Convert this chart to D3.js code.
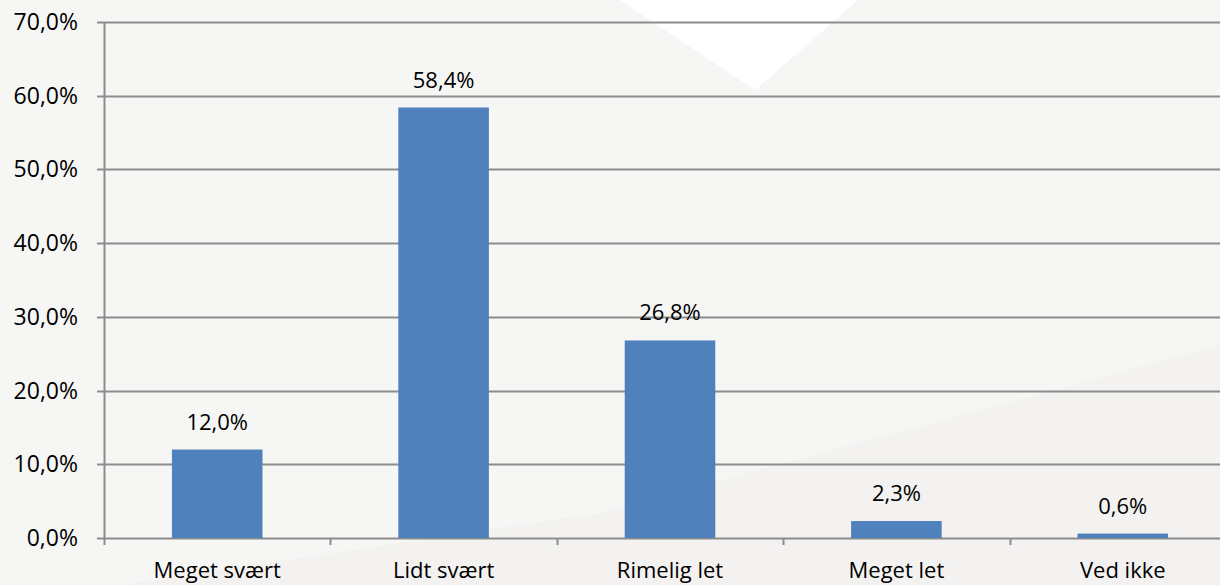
<!DOCTYPE html>
<html>
<head>
<meta charset="utf-8">
<script src="https://cdn.jsdelivr.net/npm/d3@7"></script>
<style>
body { margin: 0; background: #f6f6f5; }
svg { display: block; }
text { font-family: "Open Sans", sans-serif; fill: #000; }
</style>
</head>
<body>
<div id="chart"></div>
<script>
// data
const categories = ["Meget svært", "Lidt svært", "Rimelig let", "Meget let", "Ved ikke"]
const values = [12.0, 58.4, 26.8, 2.3, 0.6]
const yTicks = [0, 10, 20, 30, 40, 50, 60, 70]

const width = 1220
const height = 585
const margin = {top: 22, right: -16, bottom: 47, left: 104}

const svg = d3.select("#chart")
    .append("svg")
    .attr("width", width)
    .attr("height", height)

// background shapes
svg.append("rect").attr("width", width).attr("height", height).attr("fill", "#f6f6f5")
svg.append("path")
    .attr("d", "M620,0 L858,0 L755,90 Z")
    .attr("fill", "#ffffff")
svg.append("path")
    .attr("d", "M120,585 L600,513 L1220,345 L1220,585 Z")
    .attr("fill", "#f3f2f0")

const x = d3.scaleBand()
    .domain(categories)
    .range([margin.left, width - margin.right])
    .paddingInner(0)
    .paddingOuter(0)

const y = d3.scaleLinear()
    .domain([0, 70])
    .range([height - margin.bottom, margin.top])

const fmt = function(v){ return d3.format(".1f")(v).replace(".", ",") + "%" }

// gridlines
svg.append("g")
    .selectAll("line")
    .data(yTicks)
    .enter()
    .append("line")
    .attr("x1", margin.left - 7)
    .attr("x2", width)
    .attr("y1", function(d){ return Math.round(y(d)) + 0.5 })
    .attr("y2", function(d){ return Math.round(y(d)) + 0.5 })
    .attr("stroke", "#8c8c8c")
    .attr("stroke-width", 2)

// y axis line
svg.append("line")
    .attr("x1", margin.left + 0.5).attr("x2", margin.left + 0.5)
    .attr("y1", y(70)).attr("y2", y(0) + 7)
    .attr("stroke", "#8c8c8c")
    .attr("stroke-width", 2)

// y tick labels
svg.append("g")
    .selectAll("text")
    .data(yTicks)
    .enter()
    .append("text")
    .attr("x", margin.left - 26)
    .attr("y", function(d){ return y(d) })
    .attr("dy", "0.35em")
    .attr("text-anchor", "end")
    .style("font-size", "23px")
    .text(fmt)

// x category ticks
svg.append("g")
    .selectAll("line")
    .data(categories.slice(1))
    .enter()
    .append("line")
    .attr("x1", function(d){ return Math.round(x(d)) + 0.5 })
    .attr("x2", function(d){ return Math.round(x(d)) + 0.5 })
    .attr("y1", y(0))
    .attr("y2", y(0) + 7)
    .attr("stroke", "#8c8c8c")
    .attr("stroke-width", 2)

// bars
const barW = x.bandwidth() * 0.4
svg.append("g")
    .selectAll("rect")
    .data(values)
    .enter()
    .append("rect")
    .attr("x", function(d, i){ return x(categories[i]) + (x.bandwidth() - barW) / 2 })
    .attr("y", function(d){ return y(d) })
    .attr("width", barW)
    .attr("height", function(d){ return y(0) - y(d) })
    .attr("fill", "#4f81bd")

// value labels
svg.append("g")
    .selectAll("text")
    .data(values)
    .enter()
    .append("text")
    .attr("x", function(d, i){ return x(categories[i]) + x.bandwidth() / 2 })
    .attr("y", function(d){ return y(d) - 20 })
    .attr("text-anchor", "middle")
    .style("font-size", "22px")
    .text(fmt)

// category labels
svg.append("g")
    .selectAll("text")
    .data(categories)
    .enter()
    .append("text")
    .attr("x", function(d){ return x(d) + x.bandwidth() / 2 })
    .attr("y", 578)
    .attr("text-anchor", "middle")
    .style("font-size", "22px")
    .text(function(d){ return d })
</script>
</body>
</html>
